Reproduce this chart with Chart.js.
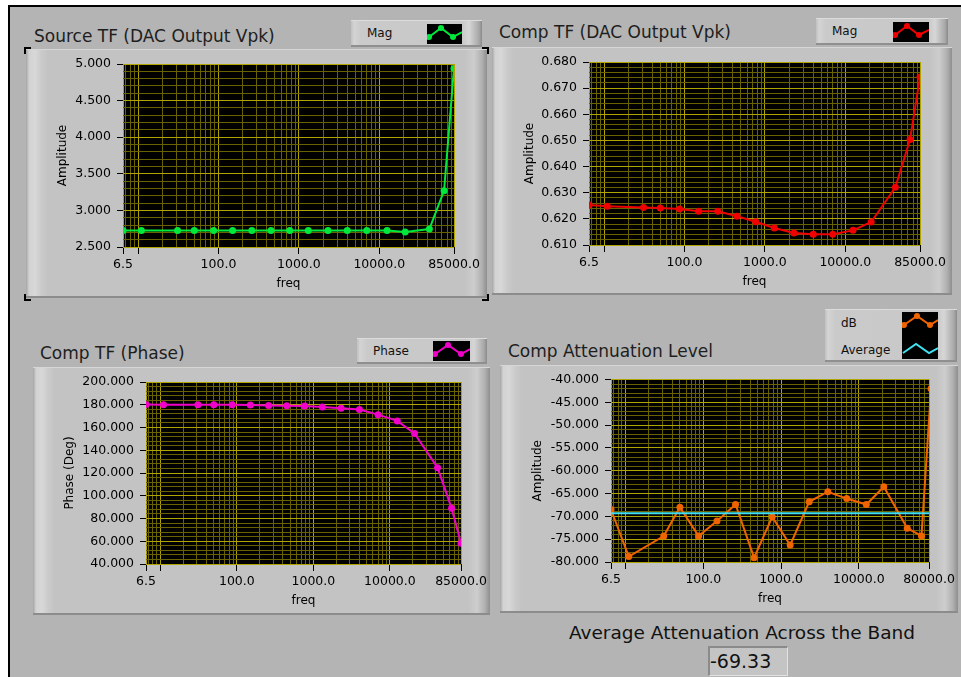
<!DOCTYPE html>
<html>
<head>
<meta charset="utf-8">
<script src="https://cdn.jsdelivr.net/npm/chart.js@4.4.1/dist/chart.umd.min.js"></script>
<style>
  body { margin: 0; background: #fff; width: 961px; height: 677px; overflow: hidden; font-family: "DejaVu Sans", sans-serif; }
  #panel { position: absolute; left: 8px; top: 5px; width: 953px; height: 672px; background: #b4b4b4;
           border-left: 2px solid #000; border-top: 2px solid #000; box-sizing: border-box; }
  .frame { position: absolute; box-sizing: border-box;
           background: linear-gradient(to right, #a4a4a4 0px, #d2d2d2 3px, #d8d8d8 9px, #cbcbcb 15px, #c3c3c3 22px,
                       #c3c3c3 calc(100% - 22px), #cdcdcd calc(100% - 13px), #b0b0b0 calc(100% - 5px), #8e8e8e 100%);
           border-top: 1px solid #d6d6d6; border-bottom: 2px solid #8c8c8c; }
  .frame canvas { position: absolute; left: 0; top: 0; }
  .title { position: absolute; font-size: 17px; color: #1e1e1e; white-space: nowrap; line-height: 20px; }
  .legend { position: absolute; box-sizing: border-box; font-size: 12px; color: #111;
            background: linear-gradient(to right, #c0c0c0 0px, #d4d4d4 3px, #cacaca 10px, #c8c8c8 calc(100% - 20px),
                        #d6d6d6 calc(100% - 13px), #a8a8a8 calc(100% - 3px), #8a8a8a 100%);
            border-top: 1px solid #dcdcdc; border-bottom: 2px solid #8f8f8f; }
  .legend span { position: absolute; line-height: 14px; }
  .legend svg { position: absolute; }
  .corner { position: absolute; width: 5px; height: 5px; border-color: #000; border-style: solid; border-width: 0; }
  #bandLabel { position: absolute; left: 560px; width: 364px; top: 622px; text-align: center; font-size: 18.5px; color: #111; line-height: 22px; }
  #bandValue { position: absolute; left: 708px; top: 646px; width: 80px; height: 30px; box-sizing: border-box;
               background: #c4c4c4; border-top: 2px solid #8a8a8a; border-left: 2px solid #8a8a8a;
               border-right: 1px solid #e2e2e2; border-bottom: 1px solid #e2e2e2;
               font-size: 19px; line-height: 26px; padding-left: 0; color: #111; }
</style>
</head>
<body>
<div id="panel"></div>

<div class="title" style="left:34px; top:26px;">Source TF (DAC Output Vpk)</div>
<div class="title" style="left:499px; top:22px;">Comp TF (DAC Output Vpk)</div>
<div class="title" style="left:40px; top:343px;">Comp TF (Phase)</div>
<div class="title" style="left:508px; top:341px;">Comp Attenuation Level</div>

<div class="legend" style="left:351px; top:20px; width:131px; height:27px;">
  <span style="left:16px; top:5px;">Mag</span>
  <svg style="left:76px; top:3px;" width="35" height="20"><rect width="35" height="20" fill="#000"/>
    <polyline points="2,13 14,4 26,13 35,8" fill="none" stroke="#00e83c" stroke-width="2"/>
    <circle cx="2" cy="13" r="3" fill="#00e83c"/><circle cx="14" cy="4" r="3" fill="#00e83c"/><circle cx="26" cy="13" r="3" fill="#00e83c"/></svg>
</div>
<div class="legend" style="left:816px; top:18px; width:132px; height:27px;">
  <span style="left:16px; top:5px;">Mag</span>
  <svg style="left:77px; top:3px;" width="36" height="20"><rect width="36" height="20" fill="#000"/>
    <polyline points="2,13 14,4 26,13 36,8" fill="none" stroke="#f00000" stroke-width="2"/>
    <circle cx="2" cy="13" r="3" fill="#f00000"/><circle cx="14" cy="4" r="3" fill="#f00000"/><circle cx="26" cy="13" r="3" fill="#f00000"/></svg>
</div>
<div class="legend" style="left:357px; top:338px; width:130px; height:26px;">
  <span style="left:16px; top:5px;">Phase</span>
  <svg style="left:76px; top:2px;" width="37" height="20"><rect width="37" height="20" fill="#000"/>
    <polyline points="2,13 15,4 28,13 37,8" fill="none" stroke="#f000c8" stroke-width="2"/>
    <circle cx="2" cy="13" r="3" fill="#f000c8"/><circle cx="15" cy="4" r="3" fill="#f000c8"/><circle cx="28" cy="13" r="3" fill="#f000c8"/></svg>
</div>
<div class="legend" style="left:825px; top:309px; width:132px; height:53px;">
  <span style="left:16px; top:6px;">dB</span>
  <span style="left:16px; top:33px;">Average</span>
  <svg style="left:77px; top:2px;" width="36" height="47"><rect width="36" height="47" fill="#000"/>
    <polyline points="2,13 15,4 28,13 36,8" fill="none" stroke="#f06400" stroke-width="2"/>
    <circle cx="2" cy="13" r="3" fill="#f06400"/><circle cx="15" cy="4" r="3" fill="#f06400"/><circle cx="28" cy="13" r="3" fill="#f06400"/>
    <polyline points="1,41 14,32 27,41 36,36" fill="none" stroke="#40e0f0" stroke-width="2"/></svg>
</div>

<div class="frame" id="f1"><canvas id="sourceChart"></canvas></div>
<div class="frame" id="f2"><canvas id="compChart"></canvas></div>
<div class="frame" id="f3"><canvas id="phaseChart"></canvas></div>
<div class="frame" id="f4"><canvas id="attenChart"></canvas></div>

<div class="corner" style="left:24px; top:47px; border-left-width:2px; border-top-width:2px;"></div>
<div class="corner" style="left:482px; top:47px; border-right-width:2px; border-top-width:2px;"></div>
<div class="corner" style="left:24px; top:294px; border-left-width:2px; border-bottom-width:2px;"></div>
<div class="corner" style="left:482px; top:294px; border-right-width:2px; border-bottom-width:2px;"></div>

<div id="bandLabel">Average Attenuation Across the Band</div>
<div id="bandValue"></div>

<script>
// frequencies of the measured points (Hz)
const freqs = [6.5, 11, 31, 50, 87, 150, 260, 450, 770, 1310, 2300, 4000, 7000, 12500, 21000, 42000, 64000, 85000];

// series
const sourceMag = [2.727, 2.727, 2.727, 2.727, 2.727, 2.727, 2.727, 2.727, 2.727, 2.727, 2.727, 2.727, 2.727, 2.727, 2.705, 2.745, 3.27, 4.94];
const compMag = [0.6253, 0.6248, 0.6243, 0.6242, 0.6238, 0.6229, 0.6229, 0.6210, 0.6189, 0.6165, 0.6146, 0.6141, 0.6141, 0.6156, 0.6188, 0.6321, 0.6504, 0.6743];
const compPhase = [180.2, 180.1, 180.0, 180.0, 179.9, 179.8, 179.4, 179.2, 179.0, 178.1, 176.9, 175.8, 171.3, 165.8, 154.7, 124.7, 89.1, 58.2];
const attenDb = [-68.5, -78.8, -74.3, -68.0, -74.3, -71.0, -67.4, -79.05, -70.1, -76.3, -66.8, -64.6, -66.1, -67.4, -63.5, -72.6, -74.3, -42.0];
const avgAtten = -69.33;

// axis labels
const freqLabels = [6.5, 100, 1000, 10000, 85000];
const attenFreqLabels = [6.5, 100, 1000, 10000, 80000];
const sourceYLabels = [2.5, 3.0, 3.5, 4.0, 4.5, 5.0];
const compYLabels = [0.61, 0.62, 0.63, 0.64, 0.65, 0.66, 0.67, 0.68];
const phaseYLabels = [40, 60, 80, 100, 120, 140, 160, 180, 200];
const attenYLabels = [-80, -75, -70, -65, -60, -55, -50, -45, -40];

const gridMajor = '#b0a400';
const gridMinor = '#686200';
const fontFam = '"DejaVu Sans", sans-serif';

document.getElementById('bandValue').textContent = avgAtten.toFixed(2);

// log grid: every k*10^n between the ends, decades are major
function logTicks(min, max) {
    const out = [{ value: min, major: true }];
    for (let e = 0; e <= 5; e++) {
        for (let k = 1; k <= 9; k++) {
            const v = k * Math.pow(10, e);
            if (v > min && v < max) out.push({ value: v, major: k === 1 });
        }
    }
    out.push({ value: max, major: true });
    return out;
}

// linear grid: labelled ticks plus (sub-1) minor lines between them
function linTicks(labels, sub) {
    const out = [];
    for (let i = 0; i < labels.length - 1; i++) {
        const step = (labels[i + 1] - labels[i]) / sub;
        for (let j = 0; j < sub; j++) out.push({ value: labels[i] + j * step, major: j === 0 });
    }
    out.push({ value: labels[labels.length - 1], major: true });
    return out;
}

const plotBg = {
    id: 'plotBg',
    beforeDraw(chart) {
        const { ctx, chartArea: a } = chart;
        ctx.save();
        ctx.fillStyle = '#000';
        ctx.fillRect(a.left, a.top, a.right - a.left, a.bottom - a.top);
        ctx.restore();
    }
};

function makePlot(cfg) {
    const { frameId, canvasId, box, plot, yTitle, yTitleX, datasets, xLabels, yLabels } = cfg;
    const frame = document.getElementById(frameId);
    frame.style.left = box.x + 'px';
    frame.style.top = box.y + 'px';
    frame.style.width = box.w + 'px';
    frame.style.height = box.h + 'px';
    const canvas = document.getElementById(canvasId);
    canvas.width = box.w;
    canvas.height = box.h;

    const xMin = xLabels[0];
    const xMax = xLabels[xLabels.length - 1];
    const yMin = yLabels[0];
    const yMax = yLabels[yLabels.length - 1];
    const xAxisH = box.y + box.h - plot.b;
    const freqCenter = plot.b + 37;

    new Chart(canvas, {
        type: 'line',
        data: { datasets },
        options: {
            responsive: false,
            animation: false,
            layout: { padding: { left: 0, top: plot.t - box.y, right: box.x + box.w - plot.r, bottom: 0 } },
            plugins: { legend: { display: false }, tooltip: { enabled: false } },
            scales: {
                x: {
                    type: 'logarithmic',
                    min: xMin,
                    max: xMax,
                    afterBuildTicks: s => { s.ticks = logTicks(xMin, xMax); },
                    afterFit: s => { s.height = xAxisH; },
                    border: { display: false },
                    grid: {
                        color: c => (c.tick && c.tick.major ? gridMajor : gridMinor),
                        tickColor: c => (c.tick && c.tick.major ? '#000' : 'rgba(0,0,0,0)'),
                        tickLength: 7,
                        lineWidth: 1
                    },
                    ticks: {
                        autoSkip: false,
                        maxRotation: 0,
                        padding: 3,
                        color: '#000',
                        font: { family: fontFam, size: 12.5 },
                        callback: v => (xLabels.includes(v) ? v.toFixed(1) : '')
                    },
                    title: {
                        display: true,
                        text: 'freq',
                        color: '#000',
                        font: { family: fontFam, size: 12 },
                        padding: { top: 0, bottom: box.y + box.h - freqCenter - 7.2 }
                    }
                },
                y: {
                    min: yMin,
                    max: yMax,
                    afterBuildTicks: s => { s.ticks = linTicks(yLabels, 5); },
                    afterFit: s => { s.width = plot.l - box.x; },
                    border: { display: false },
                    grid: {
                        color: c => (c.tick && c.tick.major ? gridMajor : gridMinor),
                        tickColor: c => (c.tick && c.tick.major ? '#000' : 'rgba(0,0,0,0)'),
                        tickLength: 6,
                        lineWidth: 1
                    },
                    ticks: {
                        autoSkip: false,
                        padding: 6,
                        color: '#000',
                        font: { family: fontFam, size: 12.5 },
                        callback: (v, i, ticks) => (ticks[i].major ? v.toFixed(3) : '')
                    },
                    title: {
                        display: true,
                        text: yTitle,
                        color: '#000',
                        font: { family: fontFam, size: 12 },
                        padding: { top: yTitleX - box.x - 7.2, bottom: 0 }
                    }
                }
            }
        },
        plugins: [plotBg]
    });
}

function series(values, color) {
    return {
        data: freqs.map((f, i) => ({ x: f, y: values[i] })),
        borderColor: color,
        backgroundColor: color,
        borderWidth: 2,
        pointRadius: 3.5,
        pointBorderWidth: 0,
        tension: 0
    };
}

makePlot({
    frameId: 'f1', canvasId: 'sourceChart',
    box: { x: 26, y: 49, w: 461, h: 249 },
    plot: { l: 123, t: 63, r: 454, b: 246 },
    yTitle: 'Amplitude', yTitleX: 63,
    datasets: [series(sourceMag, '#00e83c')],
    xLabels: freqLabels, yLabels: sourceYLabels
});

makePlot({
    frameId: 'f2', canvasId: 'compChart',
    box: { x: 492, y: 47, w: 460, h: 248 },
    plot: { l: 589, t: 61, r: 920, b: 244 },
    yTitle: 'Amplitude', yTitleX: 530,
    datasets: [series(compMag, '#f00000')],
    xLabels: freqLabels, yLabels: compYLabels
});

makePlot({
    frameId: 'f3', canvasId: 'phaseChart',
    box: { x: 33, y: 367, w: 457, h: 248 },
    plot: { l: 146, t: 381, r: 461, b: 563 },
    yTitle: 'Phase (Deg)', yTitleX: 70,
    datasets: [series(compPhase, '#f000c8')],
    xLabels: freqLabels, yLabels: phaseYLabels
});

const avgLine = series(freqs.map(() => avgAtten), '#40e0f0');
avgLine.pointRadius = 0;
makePlot({
    frameId: 'f4', canvasId: 'attenChart',
    box: { x: 500, y: 365, w: 458, h: 248 },
    plot: { l: 611, t: 378, r: 929, b: 561 },
    yTitle: 'Amplitude', yTitleX: 538,
    datasets: [avgLine, series(attenDb, '#f06400')],
    xLabels: attenFreqLabels, yLabels: attenYLabels
});
</script>
</body>
</html>
